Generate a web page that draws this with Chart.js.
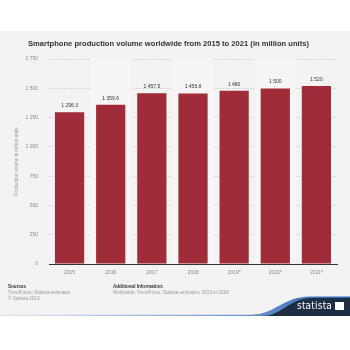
<!DOCTYPE html>
<html>
<head>
<meta charset="utf-8">
<script src="https://cdn.jsdelivr.net/npm/chart.js@4"></script>
<style>
  html, body { margin: 0; padding: 0; background: #fff; }
  body { width: 350px; height: 350px; position: relative; overflow: hidden; font-family: "Liberation Sans", Arial, sans-serif; }
  #panel { position: absolute; left: 0; top: 31px; width: 350px; height: 285px; background: #f3f3f3; }
  #wrap { position: absolute; left: 0; top: 0; width: 350px; height: 350px; }
  .foot { position: absolute; font-size: 4.6px; color: #9a9a9a; line-height: 6px; }
  .foot b { color: #333; font-weight: bold; }
  #wave { position: absolute; left: 0; top: 290px; }
  #logo { position: absolute; left: 297px; top: 300px; color: #fff; font-size: 10px; font-family: "Liberation Sans Narrow", "DejaVu Sans Condensed", sans-serif; letter-spacing: 0.2px; }
</style>
</head>
<body>
<div id="panel"></div>
<svg id="wave" width="350" height="28" viewBox="0 0 350 28">
  <defs>
    <linearGradient id="ln" x1="0" x2="1" y1="0" y2="0">
      <stop offset="0" stop-color="#e3e9f1"/>
      <stop offset="0.6" stop-color="#7fa1d3"/>
      <stop offset="1" stop-color="#2b63b5"/>
    </linearGradient>
  </defs>
  <path d="M0 24.8 L250 24.8 C275 24.8 282 7 310 6.5 L350 6.5 L350 26 L0 26 Z" fill="url(#ln)"/>
  <path d="M262 26 C282 26 288 8.5 312 8 L350 8 L350 26 Z" fill="#1d2d44"/>
</svg>
<div id="wrap"><canvas id="chart" width="350" height="350"></canvas></div>
<div class="foot" style="left:8px; top:284px;"><b>Sources</b><br>TrendForce; Statista estimates<br>© Statista 2019</div>
<div class="foot" style="left:113px; top:284px;"><b>Additional Information:</b><br>Worldwide; TrendForce; Statista estimates; 2015 to 2018</div>
<div id="logo">statista <span style="display:inline-block;width:9px;height:8px;background:#fff;vertical-align:-1px;"></span></div>
<script>
// Smartphone production volume, million units
const years = ['2015', '2016', '2017', '2018', '2019*', '2020*', '2021*'];
const volumes = [1296.3, 1359.6, 1457.5, 1456.8, 1480, 1500, 1520];
const yTicks = [0, 250, 500, 750, 1000, 1250, 1500, 1750];

function fmt(v) {
    // statista style: space as thousands separator
    const parts = String(v).split('.');
    parts[0] = parts[0].replace(/\B(?=(\d{3})+(?!\d))/g, ' ');
    return parts.join('.');
}

// alternating light column bands behind the bars
const bandPlugin = {
    id: 'bands',
    beforeDatasetsDraw(chart) {
        const { ctx, chartArea, scales } = chart;
        const x = scales.x;
        const step = x.width / years.length;
        ctx.save();
        ctx.fillStyle = '#f6f4f5';
        years.forEach((y, i) => {
            if (i % 2 === 1) {
                const cx = x.getPixelForValue(i);
                ctx.fillRect(cx - step / 2, chartArea.top, step, chartArea.bottom - chartArea.top);
            }
        });
        ctx.restore();
    }
};

// value labels above the bars
const labelPlugin = {
    id: 'valueLabels',
    afterDatasetsDraw(chart) {
        const { ctx } = chart;
        const meta = chart.getDatasetMeta(0);
        ctx.save();
        ctx.font = '5px "Liberation Sans", Arial, sans-serif';
        ctx.fillStyle = '#333';
        ctx.textAlign = 'center';
        ctx.textBaseline = 'bottom';
        meta.data.forEach((bar, i) => {
            ctx.fillText(fmt(volumes[i]), bar.x, bar.y - 4);
        });
        ctx.restore();
    }
};

new Chart(document.getElementById('chart'), {
    type: 'bar',
    data: {
        labels: years,
        datasets: [{
            data: volumes,
            backgroundColor: '#a02b39',
            categoryPercentage: 0.71,
            barPercentage: 1
        }]
    },
    plugins: [bandPlugin, labelPlugin],
    options: {
        responsive: false,
        animation: false,
        layout: { padding: { top: 39, right: 13, bottom: 66, left: 0 } },
        plugins: {
            legend: { display: false },
            tooltip: { enabled: false },
            title: {
                display: true,
                text: 'Smartphone production volume worldwide from 2015 to 2021 (in million units)',
                color: '#333',
                font: { family: '"Liberation Sans", Arial, sans-serif', size: 7.6, weight: 'bold' },
                padding: { top: 0, bottom: 11 }
            }
        },
        scales: {
            x: {
                grid: { display: false, drawTicks: false },
                border: { color: '#333', width: 1 },
                ticks: { color: '#888', font: { size: 5, family: '"Liberation Sans", Arial, sans-serif' }, padding: 6 },
                afterFit(s) { s.height = 20; }
            },
            y: {
                min: 0,
                max: 1750,
                afterBuildTicks(s) { s.ticks = yTicks.map(v => ({ value: v })); },
                grid: { color: '#cfcfcf', drawTicks: false },
                border: { display: false, dash: [1.5, 1.5] },
                ticks: {
                    color: '#888',
                    font: { size: 5, family: '"Liberation Sans", Arial, sans-serif' },
                    padding: 11,
                    callback: v => fmt(v)
                },
                title: {
                    display: true,
                    text: 'Production volume in million units',
                    color: '#999',
                    font: { size: 4.6, family: '"Liberation Sans", Arial, sans-serif' },
                    padding: { top: 14, bottom: 0 }
                },
                afterFit(s) { s.width = 49; }
            }
        }
    }
});
</script>
</body>
</html>
